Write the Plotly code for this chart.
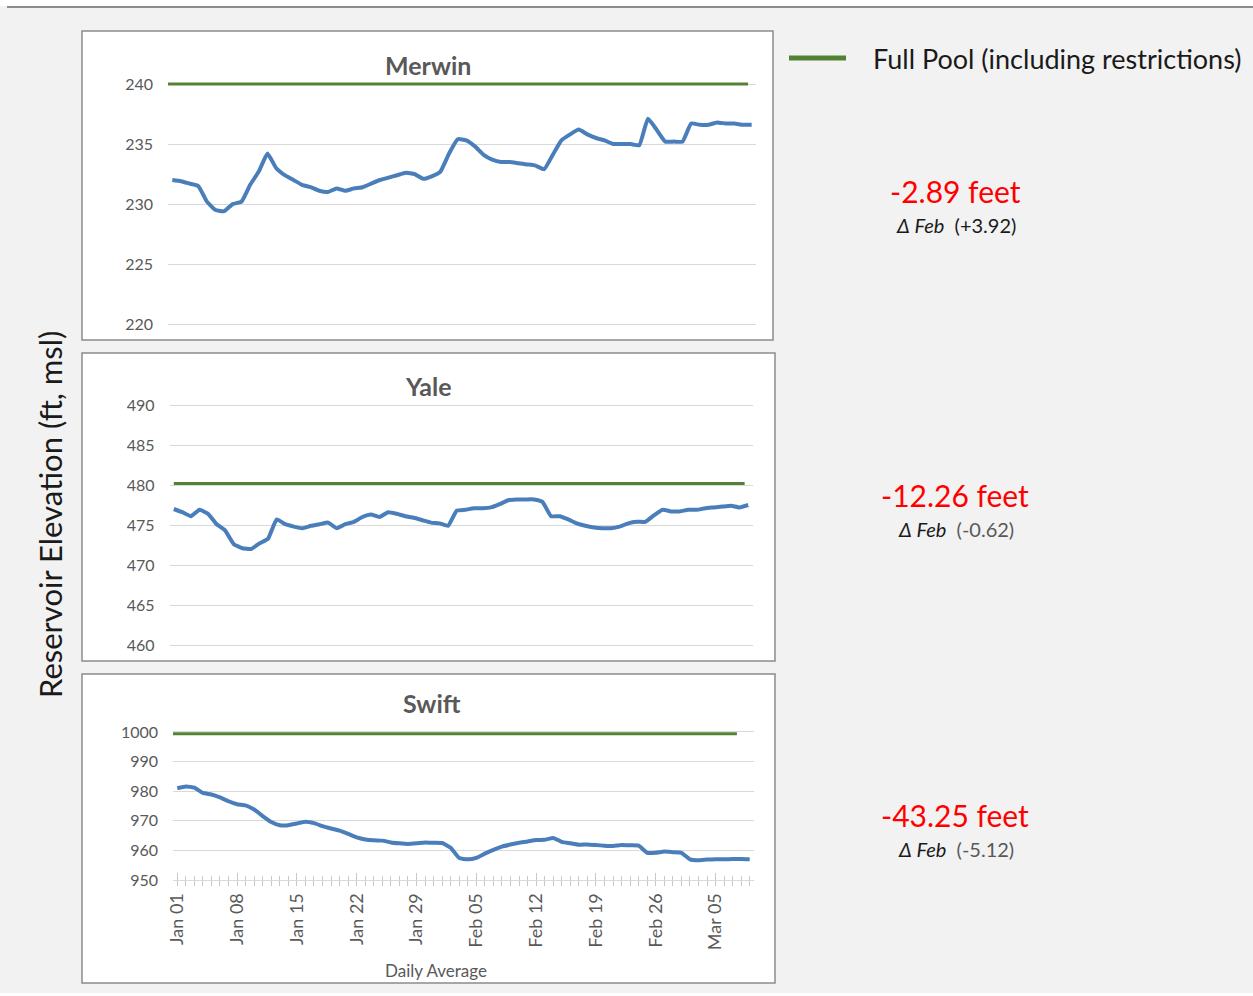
import pandas as pd
import plotly.graph_objects as go

W, H = 1253, 996

dates = pd.date_range("2023-01-01", "2023-03-09", freq="D").strftime("%Y-%m-%d").tolist()

merwin = [232.0, 231.9, 231.7, 231.5, 230.2, 229.5, 229.4, 230.0, 230.2, 231.6,
          232.7, 234.2, 233.0, 232.4, 232.0, 231.6, 231.4, 231.1, 231.0, 231.3,
          231.1, 231.3, 231.4, 231.7, 232.0, 232.2, 232.4, 232.6, 232.5, 232.1,
          232.3, 232.7, 234.2, 235.4, 235.3, 234.8, 234.1, 233.7, 233.5, 233.5,
          233.4, 233.3, 233.2, 232.9, 234.1, 235.3, 235.8, 236.2, 235.8, 235.5,
          235.3, 235.0, 235.0, 235.0, 234.9, 237.1, 236.2, 235.2, 235.2, 235.2,
          236.7, 236.6, 236.6, 236.8, 236.7, 236.7, 236.6, 236.6]

yale = [477.0, 476.6, 476.1, 476.9, 476.4, 475.1, 474.3, 472.6, 472.1, 472.0,
        472.7, 473.3, 475.7, 475.1, 474.8, 474.6, 474.9, 475.1, 475.3, 474.6,
        475.1, 475.4, 476.0, 476.3, 476.0, 476.6, 476.4, 476.1, 475.9, 475.6,
        475.3, 475.2, 474.9, 476.8, 476.9, 477.1, 477.1, 477.2, 477.6, 478.1,
        478.2, 478.2, 478.2, 477.9, 476.1, 476.1, 475.7, 475.2, 474.9, 474.7,
        474.6, 474.6, 474.8, 475.2, 475.4, 475.4, 476.2, 476.9, 476.7, 476.7,
        476.9, 476.9, 477.1, 477.2, 477.3, 477.4, 477.2, 477.5]

swift = [981.0, 981.6, 981.2, 979.4, 978.9, 977.9, 976.6, 975.6, 975.2, 973.8,
         971.6, 969.6, 968.5, 968.5, 969.1, 969.7, 969.2, 968.2, 967.4, 966.7,
         965.6, 964.4, 963.7, 963.4, 963.3, 962.7, 962.4, 962.2, 962.4, 962.7,
         962.6, 962.5, 960.9, 957.4, 957.0, 957.5, 958.9, 960.2, 961.3, 962.0,
         962.6, 963.0, 963.5, 963.6, 964.2, 962.9, 962.4, 961.9, 962.0, 961.8,
         961.6, 961.5, 961.8, 961.7, 961.6, 959.2, 959.2, 959.6, 959.4, 959.2,
         957.0, 956.7, 956.9, 957.0, 957.0, 957.1, 957.1, 957.0]

names = ["Merwin", "Yale", "Swift"]
full_pool = [240.0, 480.2, 999.4]
pool_start = ["2022-12-31 00:00", "2023-01-01 00:00", "2022-12-31 00:00"]
pool_end = ["2023-03-08 14:00", "2023-03-08 14:00", "2023-03-07 12:00"]
vs_full = ["-2.89 feet", "-12.26 feet", "-43.25 feet"]
delta_feb = ["(+3.92)", "(-0.62)", "(-5.12)"]
y_ranges = [[219.7, 240.3], [459.7, 490.3], [950, 1000.5]]
y_dticks = [5, 5, 10]
y_ticks0 = [220, 460, 950]
series = [merwin, yale, swift]

BLUE = "#4A7EBB"
GREEN = "#548235"
GRID = "#D9D9D9"
TICK = "#C8C8C8"
TXT = "#595959"
FONT = "Lato"

# pixel boxes of each plot area: (left, right, top, bottom)
areas = [(168, 756, 80.4, 327.6), (169.5, 752.5, 402.6, 647.4), (173, 754, 730.5, 880)]
boxes = [(82, 773, 31, 340), (82, 775, 353, 661), (82, 775, 674, 983)]
title_pos = [(428, 65), (428, 386), (432, 703)]
note_y = [191, 495, 815]


def px(x, y):
    return dict(x=x / W, y=1 - y / H, xref="paper", yref="paper",
                xanchor="center", yanchor="middle", showarrow=False)


fig = go.Figure()
xr = ["2022-12-31 12:00", "2023-03-09 12:00"]
DAY = 86400000

for i in range(3):
    n = "" if i == 0 else str(i + 1)
    fig.add_trace(go.Scatter(x=[pool_start[i], pool_end[i]], y=[full_pool[i]] * 2, mode="lines",
                             line=dict(color=GREEN, width=3), xaxis="x" + n, yaxis="y" + n,
                             showlegend=False, hoverinfo="skip"))
    fig.add_trace(go.Scatter(x=dates, y=series[i], mode="lines", name=names[i],
                             line=dict(color=BLUE, width=4, shape="spline", smoothing=0.4),
                             xaxis="x" + n, yaxis="y" + n, showlegend=False))
    l, r, t, b = areas[i]
    last = i == 2
    fig.layout["xaxis" + n] = dict(
        domain=[l / W, r / W], anchor="y" + n, range=xr, type="date", automargin=False,
        showgrid=False, zeroline=False,
        showline=last, linecolor=GRID, linewidth=1,
        showticklabels=last, ticks="outside" if last else "", ticklen=5, tickcolor=TICK,
        tick0="2023-01-01", dtick=7 * DAY, tickformat="%b %d", tickangle=-90,
        tickfont=dict(family=FONT, size=18, color=TXT),
        minor=dict(ticks="outside" if last else "", dtick=DAY, ticklen=5, tickcolor=TICK),
    )
    fig.layout["yaxis" + n] = dict(
        domain=[1 - b / H, 1 - t / H], anchor="x" + n, range=y_ranges[i], automargin=False,
        tick0=y_ticks0[i], dtick=y_dticks[i], showgrid=True, gridcolor=GRID, gridwidth=1,
        zeroline=False, showline=False, ticks="", ticklabelstandoff=14,
        tickfont=dict(family=FONT, size=16, color=TXT),
    )
    bl, br, bt, bb = boxes[i]
    fig.add_shape(type="rect", xref="paper", yref="paper", x0=bl / W, x1=br / W,
                  y0=1 - bb / H, y1=1 - bt / H, fillcolor="white",
                  line=dict(color="#8C8C8C", width=1.5), layer="below")
    tx, ty = title_pos[i]
    fig.add_annotation(**px(tx, ty), text="<b>%s</b>" % names[i],
                       font=dict(family=FONT, size=25, color=TXT))
    fig.add_annotation(**px(955, note_y[i]), text=vs_full[i],
                       font=dict(family=FONT, size=30, color="#FF0000"))
    dcol = "#1A1A1A" if i == 0 else "#595959"
    fig.add_annotation(**px(956, note_y[i] + 34),
                       text="<i>Δ Feb</i>&nbsp;&nbsp;<span style='color:%s'>%s</span>" % (dcol, delta_feb[i]),
                       font=dict(family=FONT, size=20, color="#1A1A1A"))

# second x axis on the Swift panel so the day ticks cross the axis line
fig.add_trace(go.Scatter(x=dates[:1], y=swift[:1], mode="none", xaxis="x4", yaxis="y3",
                         showlegend=False, hoverinfo="skip"))
fig.layout["xaxis4"] = dict(
    overlaying="x3", anchor="y3", side="bottom", range=xr, type="date", automargin=False,
    showgrid=False, zeroline=False, showline=False, showticklabels=False,
    ticks="inside", ticklen=7, tickcolor=TICK, tick0="2023-01-01", dtick=7 * DAY,
    minor=dict(ticks="inside", dtick=DAY, ticklen=4, tickcolor=TICK),
)

# page decorations
fig.add_shape(type="rect", xref="paper", yref="paper", x0=0, x1=1, y0=1 - 6 / H, y1=1,
              fillcolor="white", line_width=0, layer="below")
fig.add_shape(type="line", xref="paper", yref="paper", x0=7 / W, x1=1, y0=1 - 7 / H, y1=1 - 7 / H,
              line=dict(color="#8C8C8C", width=2))
fig.add_shape(type="rect", xref="paper", yref="paper", x0=0, x1=1, y0=0, y1=3 / H,
              fillcolor="white", line_width=0, layer="below")

# legend
fig.add_shape(type="line", xref="paper", yref="paper", x0=789 / W, x1=846 / W,
              y0=1 - 58 / H, y1=1 - 58 / H, line=dict(color=GREEN, width=5))
leg = px(871, 58)
leg["xanchor"] = "left"
fig.add_annotation(**leg, text="Full Pool (including restrictions)",
                   font=dict(family=FONT, size=27, color="#1A1A1A"))

fig.add_annotation(**px(50, 515), textangle=-90, text="Reservoir Elevation (ft, msl)",
                   font=dict(family=FONT, size=31, color="#1A1A1A"))
fig.add_annotation(**px(436, 970), text="Daily Average",
                   font=dict(family=FONT, size=17, color=TXT))

fig.update_layout(width=W, height=H, margin=dict(l=0, r=0, t=0, b=0, autoexpand=False),
                  paper_bgcolor="#F2F2F2", plot_bgcolor="rgba(0,0,0,0)",
                  font=dict(family=FONT))

fig.write_html("out.html", config={"displayModeBar": False},
               post_script="document.body.style.margin='0';")
